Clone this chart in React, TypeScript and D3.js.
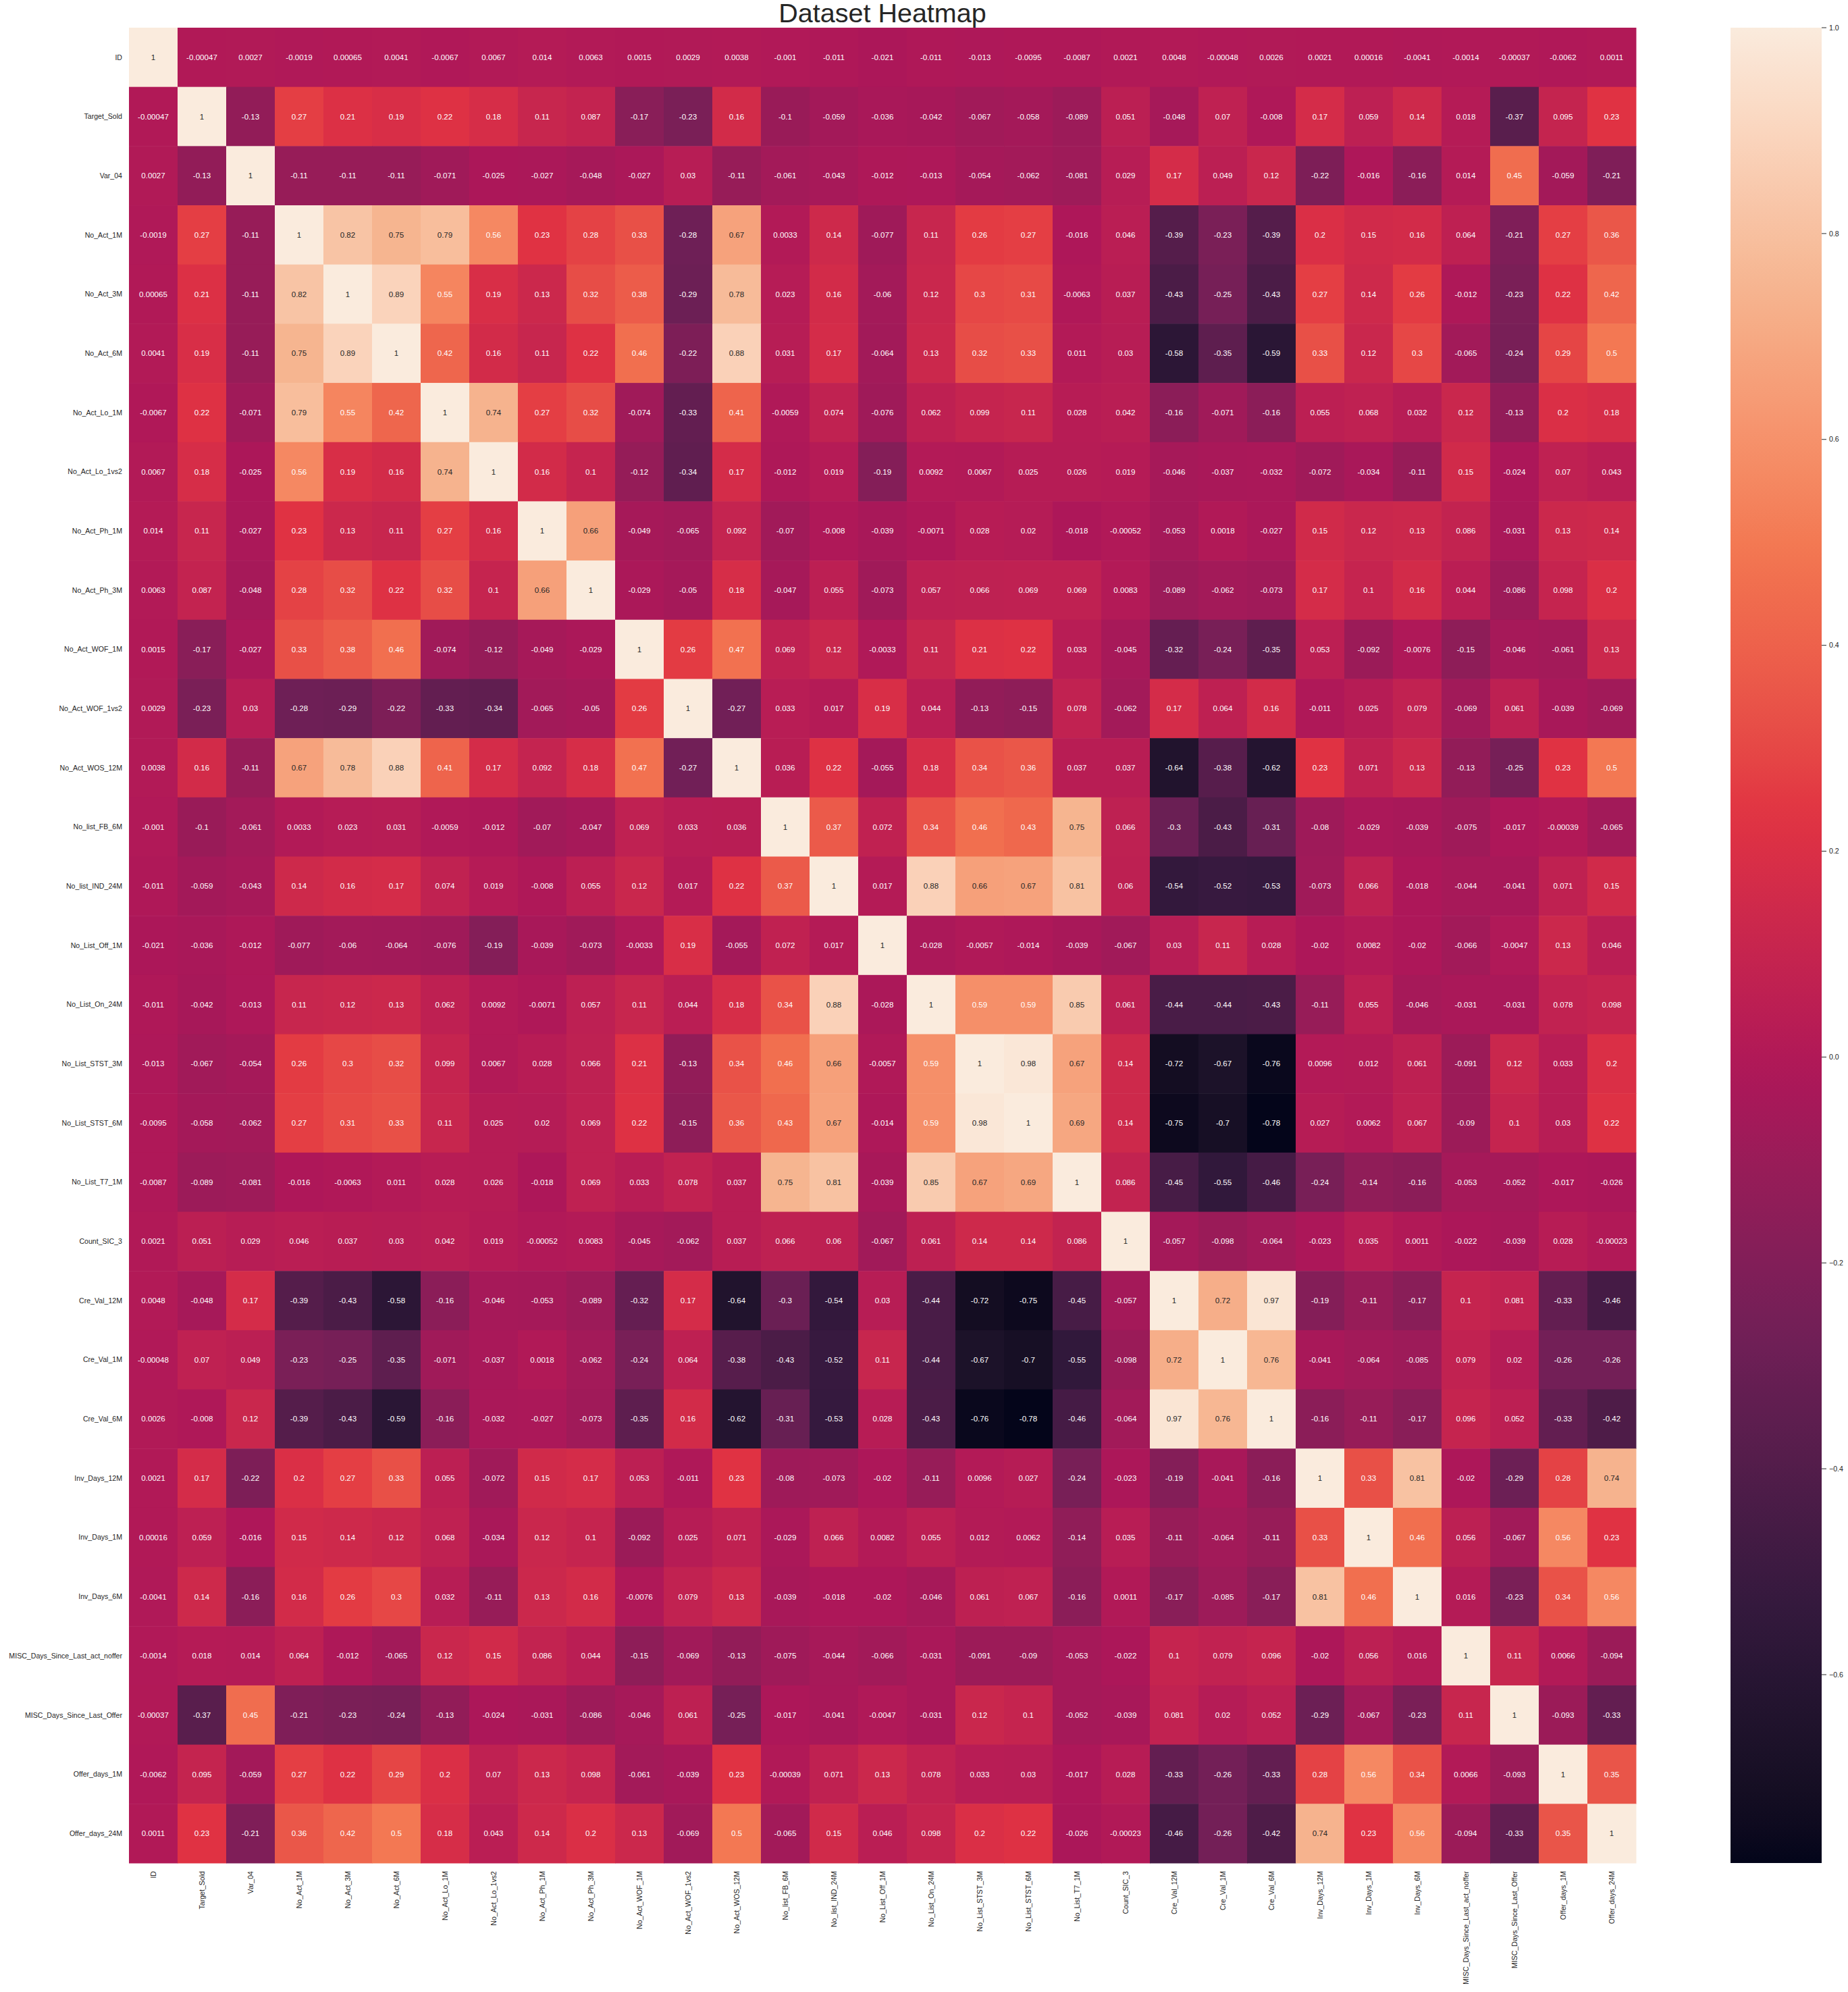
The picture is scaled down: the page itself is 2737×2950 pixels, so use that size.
import React, { useRef, useEffect } from "react";
import * as d3 from "d3";

// variable names (rows and columns share the same order)
const columns = [
  "ID", "Target_Sold", "Var_04", "No_Act_1M", "No_Act_3M", "No_Act_6M",
  "No_Act_Lo_1M", "No_Act_Lo_1vs2", "No_Act_Ph_1M", "No_Act_Ph_3M",
  "No_Act_WOF_1M", "No_Act_WOF_1vs2", "No_Act_WOS_12M", "No_list_FB_6M",
  "No_list_IND_24M", "No_List_Off_1M", "No_List_On_24M", "No_List_STST_3M",
  "No_List_STST_6M", "No_List_T7_1M", "Count_SIC_3", "Cre_Val_12M",
  "Cre_Val_1M", "Cre_Val_6M", "Inv_Days_12M", "Inv_Days_1M", "Inv_Days_6M",
  "MISC_Days_Since_Last_act_noffer", "MISC_Days_Since_Last_Offer",
  "Offer_days_1M", "Offer_days_24M",
];

// correlation values, one row per variable
const corrRows: number[][] = [
  [1, -0.00047, 0.0027, -0.0019, 0.00065, 0.0041, -0.0067, 0.0067, 0.014, 0.0063, 0.0015, 0.0029, 0.0038, -0.001, -0.011, -0.021, -0.011, -0.013, -0.0095, -0.0087, 0.0021, 0.0048, -0.00048, 0.0026, 0.0021, 0.00016, -0.0041, -0.0014, -0.00037, -0.0062, 0.0011],
  [-0.00047, 1, -0.13, 0.27, 0.21, 0.19, 0.22, 0.18, 0.11, 0.087, -0.17, -0.23, 0.16, -0.1, -0.059, -0.036, -0.042, -0.067, -0.058, -0.089, 0.051, -0.048, 0.07, -0.008, 0.17, 0.059, 0.14, 0.018, -0.37, 0.095, 0.23],
  [0.0027, -0.13, 1, -0.11, -0.11, -0.11, -0.071, -0.025, -0.027, -0.048, -0.027, 0.03, -0.11, -0.061, -0.043, -0.012, -0.013, -0.054, -0.062, -0.081, 0.029, 0.17, 0.049, 0.12, -0.22, -0.016, -0.16, 0.014, 0.45, -0.059, -0.21],
  [-0.0019, 0.27, -0.11, 1, 0.82, 0.75, 0.79, 0.56, 0.23, 0.28, 0.33, -0.28, 0.67, 0.0033, 0.14, -0.077, 0.11, 0.26, 0.27, -0.016, 0.046, -0.39, -0.23, -0.39, 0.2, 0.15, 0.16, 0.064, -0.21, 0.27, 0.36],
  [0.00065, 0.21, -0.11, 0.82, 1, 0.89, 0.55, 0.19, 0.13, 0.32, 0.38, -0.29, 0.78, 0.023, 0.16, -0.06, 0.12, 0.3, 0.31, -0.0063, 0.037, -0.43, -0.25, -0.43, 0.27, 0.14, 0.26, -0.012, -0.23, 0.22, 0.42],
  [0.0041, 0.19, -0.11, 0.75, 0.89, 1, 0.42, 0.16, 0.11, 0.22, 0.46, -0.22, 0.88, 0.031, 0.17, -0.064, 0.13, 0.32, 0.33, 0.011, 0.03, -0.58, -0.35, -0.59, 0.33, 0.12, 0.3, -0.065, -0.24, 0.29, 0.5],
  [-0.0067, 0.22, -0.071, 0.79, 0.55, 0.42, 1, 0.74, 0.27, 0.32, -0.074, -0.33, 0.41, -0.0059, 0.074, -0.076, 0.062, 0.099, 0.11, 0.028, 0.042, -0.16, -0.071, -0.16, 0.055, 0.068, 0.032, 0.12, -0.13, 0.2, 0.18],
  [0.0067, 0.18, -0.025, 0.56, 0.19, 0.16, 0.74, 1, 0.16, 0.1, -0.12, -0.34, 0.17, -0.012, 0.019, -0.19, 0.0092, 0.0067, 0.025, 0.026, 0.019, -0.046, -0.037, -0.032, -0.072, -0.034, -0.11, 0.15, -0.024, 0.07, 0.043],
  [0.014, 0.11, -0.027, 0.23, 0.13, 0.11, 0.27, 0.16, 1, 0.66, -0.049, -0.065, 0.092, -0.07, -0.008, -0.039, -0.0071, 0.028, 0.02, -0.018, -0.00052, -0.053, 0.0018, -0.027, 0.15, 0.12, 0.13, 0.086, -0.031, 0.13, 0.14],
  [0.0063, 0.087, -0.048, 0.28, 0.32, 0.22, 0.32, 0.1, 0.66, 1, -0.029, -0.05, 0.18, -0.047, 0.055, -0.073, 0.057, 0.066, 0.069, 0.069, 0.0083, -0.089, -0.062, -0.073, 0.17, 0.1, 0.16, 0.044, -0.086, 0.098, 0.2],
  [0.0015, -0.17, -0.027, 0.33, 0.38, 0.46, -0.074, -0.12, -0.049, -0.029, 1, 0.26, 0.47, 0.069, 0.12, -0.0033, 0.11, 0.21, 0.22, 0.033, -0.045, -0.32, -0.24, -0.35, 0.053, -0.092, -0.0076, -0.15, -0.046, -0.061, 0.13],
  [0.0029, -0.23, 0.03, -0.28, -0.29, -0.22, -0.33, -0.34, -0.065, -0.05, 0.26, 1, -0.27, 0.033, 0.017, 0.19, 0.044, -0.13, -0.15, 0.078, -0.062, 0.17, 0.064, 0.16, -0.011, 0.025, 0.079, -0.069, 0.061, -0.039, -0.069],
  [0.0038, 0.16, -0.11, 0.67, 0.78, 0.88, 0.41, 0.17, 0.092, 0.18, 0.47, -0.27, 1, 0.036, 0.22, -0.055, 0.18, 0.34, 0.36, 0.037, 0.037, -0.64, -0.38, -0.62, 0.23, 0.071, 0.13, -0.13, -0.25, 0.23, 0.5],
  [-0.001, -0.1, -0.061, 0.0033, 0.023, 0.031, -0.0059, -0.012, -0.07, -0.047, 0.069, 0.033, 0.036, 1, 0.37, 0.072, 0.34, 0.46, 0.43, 0.75, 0.066, -0.3, -0.43, -0.31, -0.08, -0.029, -0.039, -0.075, -0.017, -0.00039, -0.065],
  [-0.011, -0.059, -0.043, 0.14, 0.16, 0.17, 0.074, 0.019, -0.008, 0.055, 0.12, 0.017, 0.22, 0.37, 1, 0.017, 0.88, 0.66, 0.67, 0.81, 0.06, -0.54, -0.52, -0.53, -0.073, 0.066, -0.018, -0.044, -0.041, 0.071, 0.15],
  [-0.021, -0.036, -0.012, -0.077, -0.06, -0.064, -0.076, -0.19, -0.039, -0.073, -0.0033, 0.19, -0.055, 0.072, 0.017, 1, -0.028, -0.0057, -0.014, -0.039, -0.067, 0.03, 0.11, 0.028, -0.02, 0.0082, -0.02, -0.066, -0.0047, 0.13, 0.046],
  [-0.011, -0.042, -0.013, 0.11, 0.12, 0.13, 0.062, 0.0092, -0.0071, 0.057, 0.11, 0.044, 0.18, 0.34, 0.88, -0.028, 1, 0.59, 0.59, 0.85, 0.061, -0.44, -0.44, -0.43, -0.11, 0.055, -0.046, -0.031, -0.031, 0.078, 0.098],
  [-0.013, -0.067, -0.054, 0.26, 0.3, 0.32, 0.099, 0.0067, 0.028, 0.066, 0.21, -0.13, 0.34, 0.46, 0.66, -0.0057, 0.59, 1, 0.98, 0.67, 0.14, -0.72, -0.67, -0.76, 0.0096, 0.012, 0.061, -0.091, 0.12, 0.033, 0.2],
  [-0.0095, -0.058, -0.062, 0.27, 0.31, 0.33, 0.11, 0.025, 0.02, 0.069, 0.22, -0.15, 0.36, 0.43, 0.67, -0.014, 0.59, 0.98, 1, 0.69, 0.14, -0.75, -0.7, -0.78, 0.027, 0.0062, 0.067, -0.09, 0.1, 0.03, 0.22],
  [-0.0087, -0.089, -0.081, -0.016, -0.0063, 0.011, 0.028, 0.026, -0.018, 0.069, 0.033, 0.078, 0.037, 0.75, 0.81, -0.039, 0.85, 0.67, 0.69, 1, 0.086, -0.45, -0.55, -0.46, -0.24, -0.14, -0.16, -0.053, -0.052, -0.017, -0.026],
  [0.0021, 0.051, 0.029, 0.046, 0.037, 0.03, 0.042, 0.019, -0.00052, 0.0083, -0.045, -0.062, 0.037, 0.066, 0.06, -0.067, 0.061, 0.14, 0.14, 0.086, 1, -0.057, -0.098, -0.064, -0.023, 0.035, 0.0011, -0.022, -0.039, 0.028, -0.00023],
  [0.0048, -0.048, 0.17, -0.39, -0.43, -0.58, -0.16, -0.046, -0.053, -0.089, -0.32, 0.17, -0.64, -0.3, -0.54, 0.03, -0.44, -0.72, -0.75, -0.45, -0.057, 1, 0.72, 0.97, -0.19, -0.11, -0.17, 0.1, 0.081, -0.33, -0.46],
  [-0.00048, 0.07, 0.049, -0.23, -0.25, -0.35, -0.071, -0.037, 0.0018, -0.062, -0.24, 0.064, -0.38, -0.43, -0.52, 0.11, -0.44, -0.67, -0.7, -0.55, -0.098, 0.72, 1, 0.76, -0.041, -0.064, -0.085, 0.079, 0.02, -0.26, -0.26],
  [0.0026, -0.008, 0.12, -0.39, -0.43, -0.59, -0.16, -0.032, -0.027, -0.073, -0.35, 0.16, -0.62, -0.31, -0.53, 0.028, -0.43, -0.76, -0.78, -0.46, -0.064, 0.97, 0.76, 1, -0.16, -0.11, -0.17, 0.096, 0.052, -0.33, -0.42],
  [0.0021, 0.17, -0.22, 0.2, 0.27, 0.33, 0.055, -0.072, 0.15, 0.17, 0.053, -0.011, 0.23, -0.08, -0.073, -0.02, -0.11, 0.0096, 0.027, -0.24, -0.023, -0.19, -0.041, -0.16, 1, 0.33, 0.81, -0.02, -0.29, 0.28, 0.74],
  [0.00016, 0.059, -0.016, 0.15, 0.14, 0.12, 0.068, -0.034, 0.12, 0.1, -0.092, 0.025, 0.071, -0.029, 0.066, 0.0082, 0.055, 0.012, 0.0062, -0.14, 0.035, -0.11, -0.064, -0.11, 0.33, 1, 0.46, 0.056, -0.067, 0.56, 0.23],
  [-0.0041, 0.14, -0.16, 0.16, 0.26, 0.3, 0.032, -0.11, 0.13, 0.16, -0.0076, 0.079, 0.13, -0.039, -0.018, -0.02, -0.046, 0.061, 0.067, -0.16, 0.0011, -0.17, -0.085, -0.17, 0.81, 0.46, 1, 0.016, -0.23, 0.34, 0.56],
  [-0.0014, 0.018, 0.014, 0.064, -0.012, -0.065, 0.12, 0.15, 0.086, 0.044, -0.15, -0.069, -0.13, -0.075, -0.044, -0.066, -0.031, -0.091, -0.09, -0.053, -0.022, 0.1, 0.079, 0.096, -0.02, 0.056, 0.016, 1, 0.11, 0.0066, -0.094],
  [-0.00037, -0.37, 0.45, -0.21, -0.23, -0.24, -0.13, -0.024, -0.031, -0.086, -0.046, 0.061, -0.25, -0.017, -0.041, -0.0047, -0.031, 0.12, 0.1, -0.052, -0.039, 0.081, 0.02, 0.052, -0.29, -0.067, -0.23, 0.11, 1, -0.093, -0.33],
  [-0.0062, 0.095, -0.059, 0.27, 0.22, 0.29, 0.2, 0.07, 0.13, 0.098, -0.061, -0.039, 0.23, -0.00039, 0.071, 0.13, 0.078, 0.033, 0.03, -0.017, 0.028, -0.33, -0.26, -0.33, 0.28, 0.56, 0.34, 0.0066, -0.093, 1, 0.35],
  [0.0011, 0.23, -0.21, 0.36, 0.42, 0.5, 0.18, 0.043, 0.14, 0.2, 0.13, -0.069, 0.5, -0.065, 0.15, 0.046, 0.098, 0.2, 0.22, -0.026, -0.00023, -0.46, -0.26, -0.42, 0.74, 0.23, 0.56, -0.094, -0.33, 0.35, 1],
];

const colorbarTicks = [1.0, 0.8, 0.6, 0.4, 0.2, 0.0, -0.2, -0.4, -0.6];

// seaborn "rocket" colormap key colours
const rocketStops = ["#03051a", "#35193e", "#701f57", "#ad1759", "#e13342", "#f37651", "#f6b48f", "#faebdd"];

const W = 2737;
const H = 2950;
const FONT = "'Liberation Sans', Arial, sans-serif";

export default function App() {
  const svgRef = useRef<SVGSVGElement>(null);

  useEffect(() => {
    const svg = d3.select(svgRef.current);
    svg.selectAll("*").remove();

    const left = 191, right = 2423, top = 41, bottom = 2759;
    const vmax = 1;
    const vmin = -0.783;

    const x = d3.scaleBand().domain(columns).range([left, right]);
    const y = d3.scaleBand().domain(columns).range([top, bottom]);

    const rocket = d3
      .scaleLinear<string>()
      .domain(rocketStops.map((_, i) => i / (rocketStops.length - 1)))
      .range(rocketStops)
      .interpolate(d3.interpolateLab);
    const norm = d3.scaleLinear().domain([vmin, vmax]).range([0, 1]).clamp(true);
    const color = (v: number) => rocket(norm(v));

    const textColor = (c: string) => {
      const rgb = d3.rgb(c);
      const lin = [rgb.r, rgb.g, rgb.b].map((u) => {
        const s = u / 255;
        return s <= 0.03928 ? s / 12.92 : Math.pow((s + 0.055) / 1.055, 2.4);
      });
      const lum = 0.2126 * lin[0] + 0.7152 * lin[1] + 0.0722 * lin[2];
      return lum > 0.408 ? "#262626" : "#ffffff";
    };

    const fmt = d3.formatLocale({
      decimal: ".", thousands: ",", grouping: [3], currency: ["", ""], minus: "-",
    }).format(".2~g");

    const cells = corrRows.flatMap((row, i) =>
      row.map((v, j) => ({ r: columns[i], c: columns[j], v }))
    );

    // cells
    svg.append("g")
      .selectAll("rect")
      .data(cells)
      .join("rect")
      .attr("x", (d) => x(d.c)!)
      .attr("y", (d) => y(d.r)!)
      .attr("width", x.bandwidth() + 0.5)
      .attr("height", y.bandwidth() + 0.5)
      .attr("fill", (d) => color(d.v));

    // annotations
    svg.append("g")
      .selectAll("text")
      .data(cells)
      .join("text")
      .attr("x", (d) => x(d.c)! + x.bandwidth() / 2)
      .attr("y", (d) => y(d.r)! + y.bandwidth() / 2)
      .attr("dy", "0.35em")
      .attr("text-anchor", "middle")
      .attr("font-family", FONT)
      .attr("font-size", 11.6)
      .attr("fill", (d) => textColor(color(d.v)))
      .text((d) => fmt(d.v));

    // y labels
    svg.append("g")
      .selectAll("text")
      .data(columns)
      .join("text")
      .attr("x", left - 10)
      .attr("y", (d) => y(d)! + y.bandwidth() / 2)
      .attr("dy", "0.35em")
      .attr("text-anchor", "end")
      .attr("font-family", FONT)
      .attr("font-size", 10.6)
      .attr("fill", "#262626")
      .text((d) => d);

    // x labels (rotated)
    svg.append("g")
      .selectAll("text")
      .data(columns)
      .join("text")
      .attr("transform", (d) => `translate(${x(d)! + x.bandwidth() / 2},${bottom + 12}) rotate(-90)`)
      .attr("dy", "0.35em")
      .attr("text-anchor", "end")
      .attr("font-family", FONT)
      .attr("font-size", 10.6)
      .attr("fill", "#262626")
      .text((d) => d);

    // title
    svg.append("text")
      .attr("x", (left + right) / 2)
      .attr("y", 33)
      .attr("text-anchor", "middle")
      .attr("font-family", FONT)
      .attr("font-size", 39.5)
      .attr("fill", "#262626")
      .text("Dataset Heatmap");

    // colorbar
    const cbX = 2563, cbW = 135;
    const cbY = d3.scaleLinear().domain([vmax, vmin]).range([top, bottom]);
    const grad = svg.append("defs")
      .append("linearGradient")
      .attr("id", "cbgrad")
      .attr("x1", 0).attr("y1", 1).attr("x2", 0).attr("y2", 0);
    d3.range(0, 1.0001, 0.02).forEach((t) => {
      grad.append("stop").attr("offset", t).attr("stop-color", rocket(t));
    });
    svg.append("rect")
      .attr("x", cbX)
      .attr("y", top)
      .attr("width", cbW)
      .attr("height", bottom - top)
      .attr("fill", "url(#cbgrad)");

    const cbAxis = svg.append("g").attr("transform", `translate(${cbX + cbW},0)`);
    const tickG = cbAxis.selectAll("g")
      .data(colorbarTicks)
      .join("g")
      .attr("transform", (d) => `translate(0,${cbY(d)})`);
    tickG.append("line")
      .attr("x1", 0).attr("x2", 7)
      .attr("stroke", "#262626")
      .attr("stroke-width", 1);
    tickG.append("text")
      .attr("x", 11)
      .attr("dy", "0.35em")
      .attr("font-family", FONT)
      .attr("font-size", 10.6)
      .attr("fill", "#262626")
      .text((d) => d3.format(".1f")(d));
  }, []);

  return (
    <svg
      ref={svgRef}
      width={W}
      height={H}
      style={{ position: "absolute", left: 0, top: 0, background: "#ffffff" }}
    />
  );
}
